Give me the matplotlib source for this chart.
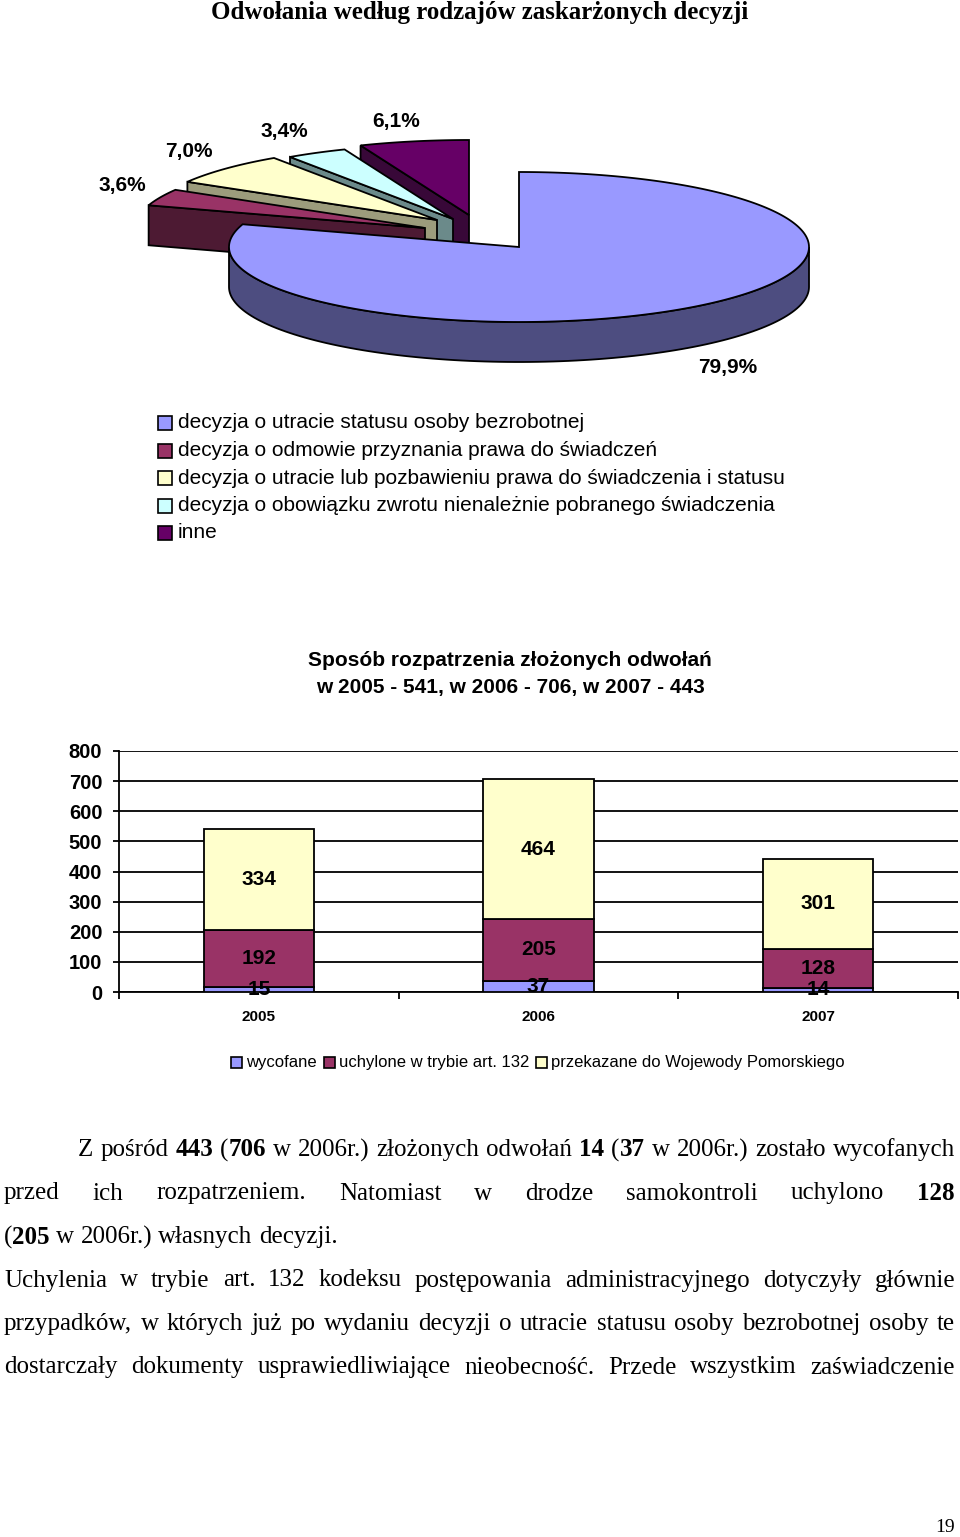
import matplotlib
matplotlib.use("Agg")
import matplotlib.pyplot as plt
from matplotlib.patches import Polygon, Rectangle
import numpy as np

SANS = "Liberation Sans"
SERIF = "Liberation Serif"

# dane - wykres kolowy
pie_labels = [
    "decyzja o utracie statusu osoby bezrobotnej",
    "decyzja o odmowie przyznania prawa do świadczeń",
    "decyzja o utracie lub pozbawieniu prawa do świadczenia i statusu",
    "decyzja o obowiązku zwrotu nienależnie pobranego świadczenia",
    "inne",
]
pie_values = [79.9, 3.6, 7.0, 3.4, 6.1]
pie_colors = ["#9999FF", "#993366", "#FFFFCC", "#CCFFFF", "#660066"]
pie_side = ["#4D4D80", "#4D1A33", "#9C9C7C", "#6B8A8A", "#380838"]

# dane - wykres slupkowy
years = ["2005", "2006", "2007"]
wycofane = [15, 37, 14]
uchylone = [192, 205, 128]
przekazane = [334, 464, 301]
bar_names = ["wycofane", "uchylone w trybie art. 132", "przekazane do Wojewody Pomorskiego"]
bar_colors = ["#9999FF", "#993366", "#FFFFCC"]

par_lines = [
    ("Z pośród *443* (*706* w 2006r.) złożonych odwołań *14* (*37* w 2006r.) zostało wycofanych", 78, True),
    ("przed ich rozpatrzeniem. Natomiast w drodze samokontroli uchylono *128*", 4, True),
    ("(*205* w 2006r.) własnych decyzji.", 4, False),
    ("Uchylenia w trybie art. 132 kodeksu postępowania administracyjnego dotyczyły głównie", 4, True),
    ("przypadków, w których już po wydaniu decyzji o utracie statusu osoby bezrobotnej osoby te", 4, True),
    ("dostarczały dokumenty usprawiedliwiające nieobecność. Przede wszystkim zaświadczenie", 4, True),
]

W, H = 960, 1537
fig = plt.figure(figsize=(W / 100, H / 100), dpi=100)
ax = fig.add_axes([0, 0, 1, 1])
ax.set_xlim(0, W)
ax.set_ylim(H, 0)
ax.axis("off")
renderer = fig.canvas.get_renderer()

ax.text(480, 12, "Odwołania według rodzajów zaskarżonych decyzji", family=SERIF,
        fontweight="bold", fontsize=18, ha="center", va="center")

# --- wykres kolowy 3D (rysowany recznie) ---
CX, CY = 519, 247
RX, RY, DEPTH = 290, 75, 40
explode = [(0, 0), (-94, -19), (-82, -27), (-66, -28), (-50, -32)]
lab_pos = [(728, 368), (122, 186), (189, 151), (284, 131), (396, 121)]


def rim(ax0, ay0, t, dz=0):
    r = np.radians(t)
    return (ax0 + RX * np.sin(r), ay0 - RY * np.cos(r) + dz)


total = sum(pie_values)
ends = np.cumsum(pie_values) / total * 360
starts = np.concatenate([[0], ends[:-1]])
mids = (starts + ends) / 2
order = np.argsort(-np.cos(np.radians(mids)))
lw = 1.3
for i in order:
    a0, a1 = starts[i], ends[i]
    px, py = CX + explode[i][0], CY + explode[i][1]
    # sciana zewnetrzna (przod)
    lo, hi = max(a0, 90), min(a1, 270)
    if lo < hi:
        ts = np.linspace(lo, hi, 120)
        pts = [rim(px, py, t) for t in ts] + [rim(px, py, t, DEPTH) for t in ts[::-1]]
        ax.add_patch(Polygon(pts, closed=True, fc=pie_side[i], ec="black", lw=lw))
    # sciany promieniowe
    if np.sin(np.radians(a0)) < -1e-6:
        pts = [(px, py), rim(px, py, a0), rim(px, py, a0, DEPTH), (px, py + DEPTH)]
        ax.add_patch(Polygon(pts, closed=True, fc=pie_side[i], ec="black", lw=lw))
    if np.sin(np.radians(a1)) > 1e-6:
        pts = [(px, py), rim(px, py, a1), rim(px, py, a1, DEPTH), (px, py + DEPTH)]
        ax.add_patch(Polygon(pts, closed=True, fc=pie_side[i], ec="black", lw=lw))
    ts = np.linspace(a0, a1, max(int(a1 - a0) * 2, 20))
    pts = [(px, py)] + [rim(px, py, t) for t in ts]
    ax.add_patch(Polygon(pts, closed=True, fc=pie_colors[i], ec="black", lw=lw, joinstyle="miter"))

for i, v in enumerate(pie_values):
    ax.text(lab_pos[i][0], lab_pos[i][1], f"{v:.1f}%".replace(".", ","), family=SANS,
            fontweight="bold", fontsize=15, ha="center", va="center")

# legenda kolowego
for i, lab in enumerate(pie_labels):
    y = 423 + 27.5 * i
    ax.add_patch(Rectangle((158, y - 7), 14, 14, fc=pie_colors[i], ec="black", lw=1.2))
    ax.text(178, y, lab, family=SANS, fontsize=15, ha="left", va="center")

# --- wykres slupkowy ---
ax.text(510, 660, "Sposób rozpatrzenia złożonych odwołań", family=SANS, fontweight="bold",
        fontsize=15, ha="center", va="center")
ax.text(510, 688, "w 2005 - 541, w 2006 - 706, w 2007 - 443", family=SANS, fontweight="bold",
        fontsize=15, ha="center", va="center")

axb = fig.add_axes([119 / W, (H - 992) / H, 839 / W, 241 / H])
axb.patch.set_alpha(0)
x = np.arange(len(years))
bw = 0.395
b1 = axb.bar(x, wycofane, bw, color=bar_colors[0], edgecolor="black", lw=lw, zorder=3)
b2 = axb.bar(x, uchylone, bw, bottom=wycofane, color=bar_colors[1], edgecolor="black", lw=lw, zorder=3)
b3 = axb.bar(x, przekazane, bw, bottom=np.add(wycofane, uchylone), color=bar_colors[2],
             edgecolor="black", lw=lw, zorder=3)
for b in (b1, b2, b3):
    axb.bar_label(b, label_type="center", fontweight="bold", fontsize=15, family=SANS, zorder=4)
axb.set_xlim(-0.5, 2.5)
axb.set_ylim(0, 800)
axb.set_yticks(range(0, 801, 100))
axb.set_xticks(x)
axb.set_xticklabels(years)
axb.set_xticks([-0.5, 0.5, 1.5, 2.5], minor=True)
axb.grid(axis="y", color="black", lw=lw, zorder=0)
axb.set_axisbelow(True)
for s in ("top", "right"):
    axb.spines[s].set_visible(False)
for s in ("left", "bottom"):
    axb.spines[s].set_linewidth(lw)
axb.tick_params(axis="y", length=4, width=lw, pad=8, labelsize=14.5)
axb.tick_params(axis="x", which="major", length=0, pad=13, labelsize=11)
axb.tick_params(axis="x", which="minor", length=5, width=lw)
for t in axb.get_yticklabels() + axb.get_xticklabels():
    t.set_fontweight("bold")
    t.set_family(SANS)

# legenda slupkowego
lx = 231
for i, lab in enumerate(bar_names):
    ax.add_patch(Rectangle((lx, 1057), 11, 11, fc=bar_colors[i], ec="black", lw=1.2))
    t = ax.text(lx + 15, 1062.5, lab, family=SANS, fontsize=12, ha="left", va="center")
    lx += 15 + t.get_window_extent(renderer).width + 7

# --- tekst akapitu (wyjustowany) ---
PSIZE = 18


def seg_width(s, bold):
    t = ax.text(0, 0, s, family=SERIF, fontsize=PSIZE, fontweight="bold" if bold else "normal")
    w = t.get_window_extent(renderer).width
    t.remove()
    return w


space = seg_width("x x", False) - seg_width("xx", False)
for k, (line, x0, just) in enumerate(par_lines):
    y = 1150 + 43.5 * k
    words = []
    for w in line.split(" "):
        parts = w.split("*")
        words.append([(p, j % 2 == 1) for j, p in enumerate(parts) if p])
    widths = [sum(seg_width(s, b) for s, b in w) for w in words]
    gap = (955 - x0 - sum(widths)) / (len(words) - 1) if just else space
    xx = x0
    for w, wd in zip(words, widths):
        xs = xx
        for s, b in w:
            ax.text(xs, y, s, family=SERIF, fontsize=PSIZE, fontweight="bold" if b else "normal",
                    ha="left", va="center")
            xs += seg_width(s, b)
        xx += wd + gap

ax.text(955, 1528, "19", family=SERIF, fontsize=14, ha="right", va="center")

fig.savefig("out.png", dpi=100)
